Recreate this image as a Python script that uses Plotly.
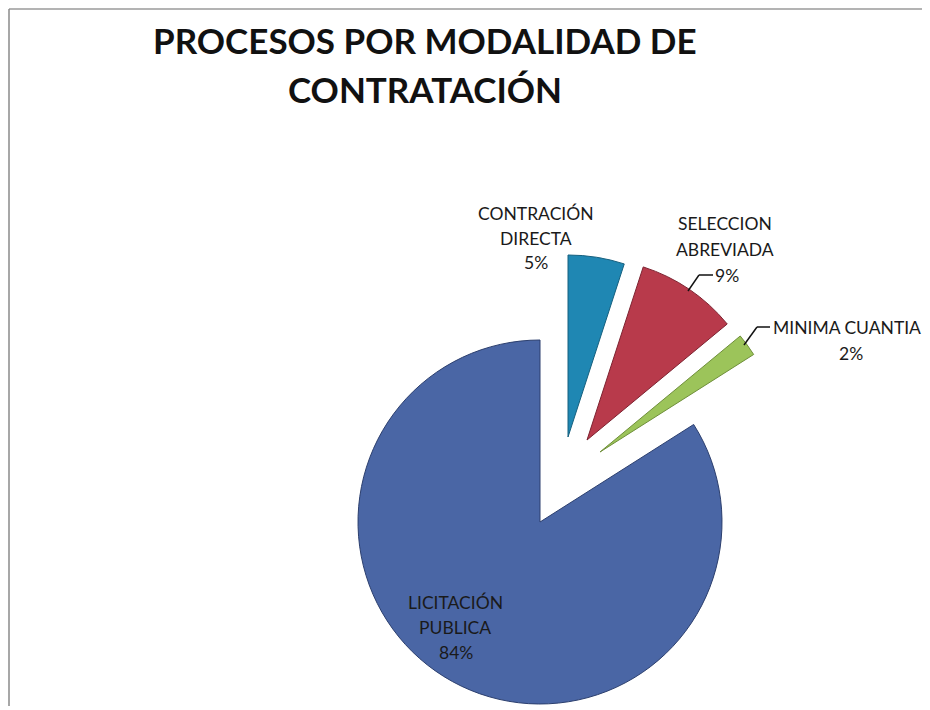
import plotly.graph_objects as go

# ---- data ----
categories = ["CONTRACIÓN DIRECTA", "SELECCION ABREVIADA", "MINIMA CUANTIA", "LICITACIÓN PUBLICA"]
values = [5, 9, 2, 84]
percent_labels = ["5%", "9%", "2%", "84%"]
label_lines = [["CONTRACIÓN", "DIRECTA"], ["SELECCION", "ABREVIADA"], ["MINIMA CUANTIA"], ["LICITACIÓN", "PUBLICA"]]
title_lines = ["PROCESOS POR MODALIDAD DE", "CONTRATACIÓN"]

colors = ["#1f87b3", "#b83a4b", "#9cc45a", "#4a66a5"]
edge_colors = ["#16607f", "#7d2230", "#6f8f3a", "#2c3f6e"]

# the page body has an 8px margin; figure sized to fill the rest of the window
OFF = 8
W, H = 930 - OFF, 710 - OFF


def px(x):
    return (x - OFF) / W


def py(y):
    return 1 - (y - OFF) / H


R = 182
# reference-pixel centres of each slice's pie (small slices exploded outward)
centres = [(568, 437), (587, 440), (600, 452), (540, 522)]

fig = go.Figure()
TRANSP = "rgba(0,0,0,0)"
for i, (cx, cy) in enumerate(centres):
    fill = [colors[j] if j == i else TRANSP for j in range(len(values))]
    line = [edge_colors[j] if j == i else TRANSP for j in range(len(values))]
    fig.add_trace(go.Pie(
        labels=categories,
        values=values,
        sort=False,
        direction="clockwise",
        rotation=0,
        marker=dict(colors=fill, line=dict(color=line, width=1)),
        textinfo="none",
        hoverinfo="label+percent",
        showlegend=False,
        domain=dict(x=[px(cx - R), px(cx + R)],
                    y=[py(cy + R), py(cy - R)]),
    ))

label_font = dict(family="Lato, Noto Sans, sans-serif", size=17.5, color="#1a1a1a")
# per-line label positions (reference pixel centres)
label_pos = [
    [(536, 214), (536, 238), (536, 262)],
    [(725, 223), (725, 249), (727, 275)],
    [(847, 327), (851, 353)],
    [(455, 602), (455, 627), (456, 652)],
]
for i, rows in enumerate(label_pos):
    texts = label_lines[i] + [percent_labels[i]]
    for t, (lx, ly) in zip(texts, rows):
        fig.add_annotation(x=px(lx), y=py(ly), xref="paper", yref="paper",
                           text=t, showarrow=False, font=label_font,
                           xanchor="center", yanchor="middle")

# leader lines
leaders = [
    [(713, 275), (699, 275), (688, 291)],
    [(770, 327), (757, 327), (744, 345)],
]
for pts in leaders:
    for (x0, y0), (x1, y1) in zip(pts[:-1], pts[1:]):
        fig.add_shape(type="line", xref="paper", yref="paper",
                      x0=px(x0), y0=py(y0), x1=px(x1), y1=py(y1),
                      line=dict(color="#111111", width=1.5))

# chart frame (top and left edges)
fig.add_shape(type="line", xref="paper", yref="paper", x0=px(9), y0=py(9), x1=1, y1=py(9),
              line=dict(color="#9a9a9a", width=1.5))
fig.add_shape(type="line", xref="paper", yref="paper", x0=px(9), y0=py(9), x1=px(9), y1=py(706),
              line=dict(color="#8a8a8a", width=1.5))

# title (two lines)
title_font = dict(family="Lato, Noto Sans, sans-serif", size=35, color="#111111")
for t, ty in zip(title_lines, [40, 89]):
    fig.add_annotation(x=px(425), y=py(ty), xref="paper", yref="paper",
                       text="<b>" + t + "</b>", showarrow=False, font=title_font,
                       xanchor="center", yanchor="middle")

fig.update_layout(
    width=W, height=H,
    margin=dict(l=0, r=0, t=0, b=0),
    paper_bgcolor="white", plot_bgcolor="white",
)

fig.write_html("out.html")
